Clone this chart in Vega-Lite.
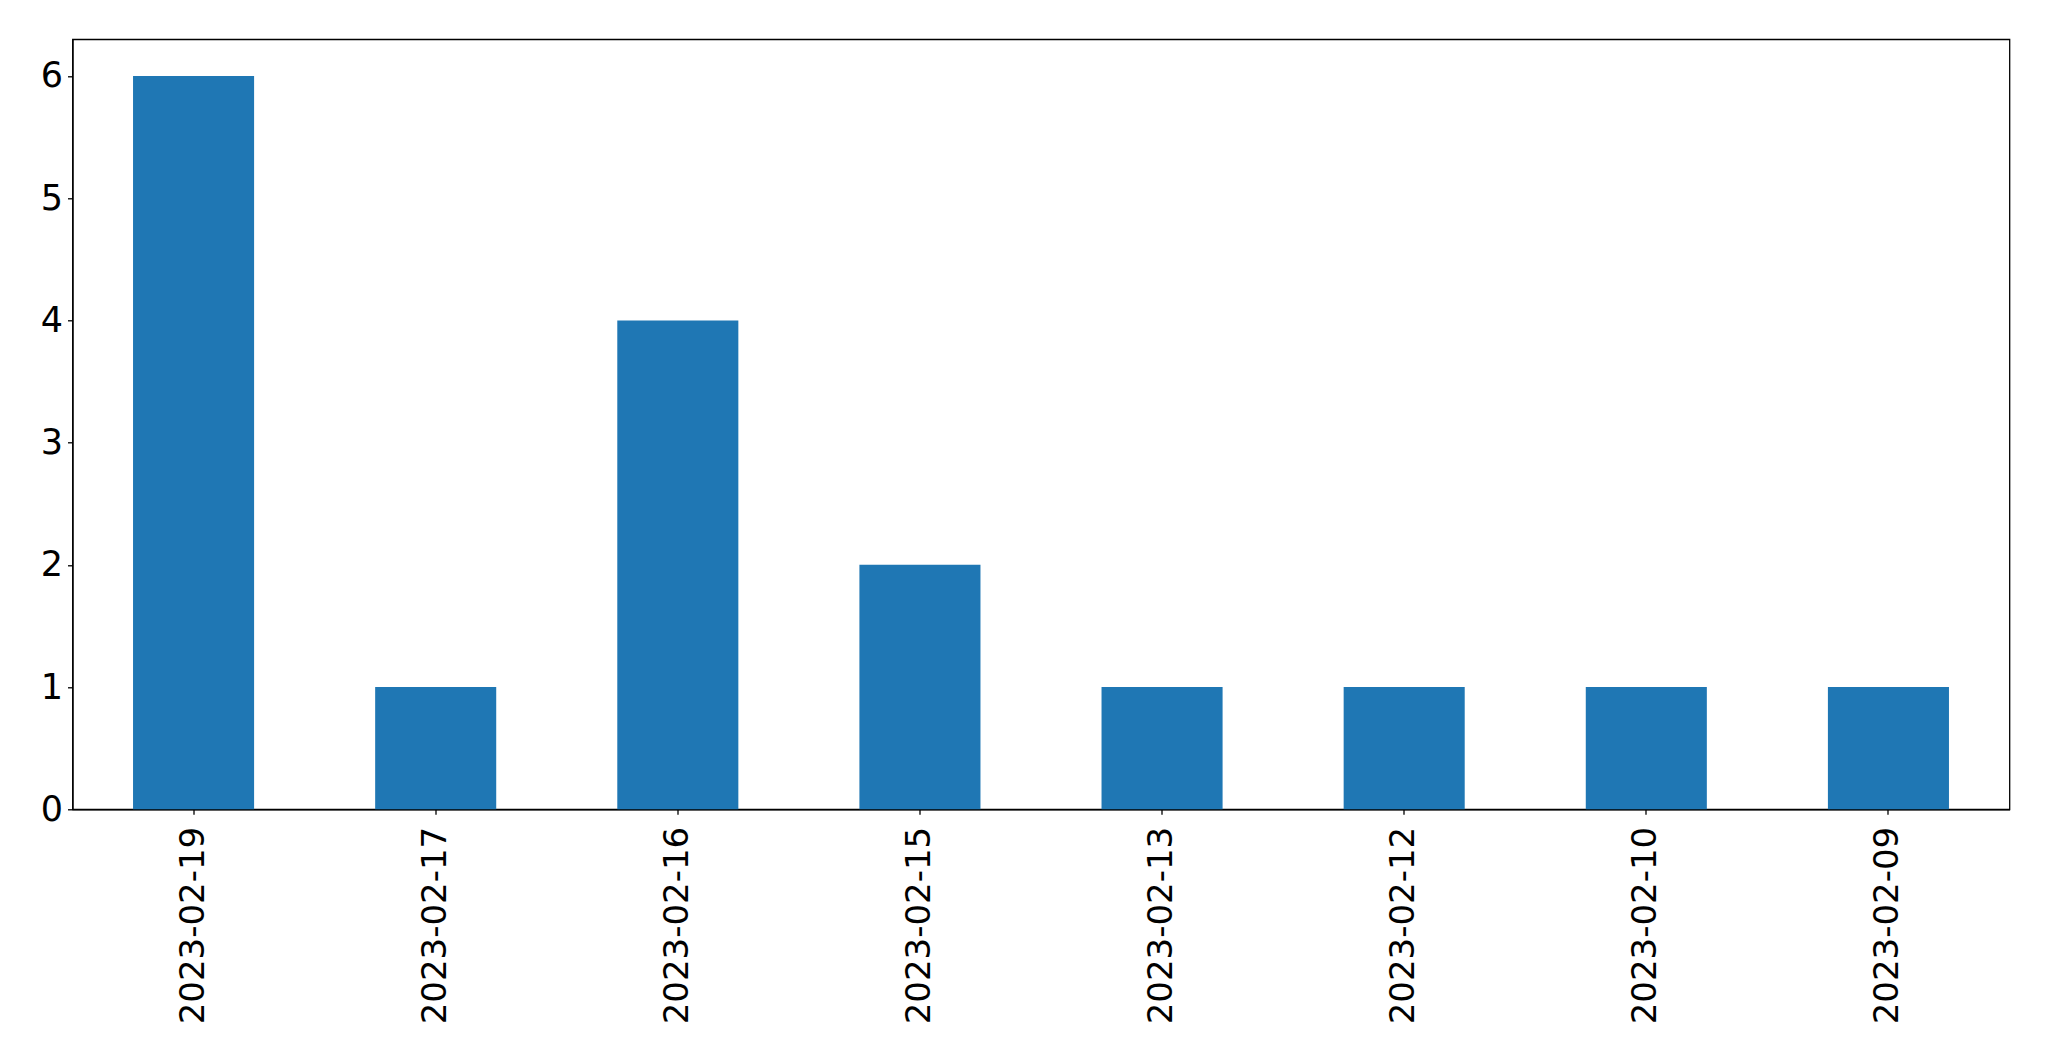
{
  "$schema": "https://vega.github.io/schema/vega-lite/v6.json",
  "autosize": "none",
  "width": 1937,
  "height": 770,
  "padding": {"left": 72.5, "top": 39.3, "right": 40, "bottom": 252},
  "background": "white",
  "config": {
    "view": {"stroke": "#000", "strokeWidth": 1.3},
    "font": "DejaVu Sans",
    "axis": {
      "labelFont": "DejaVu Sans",
      "labelFontSize": 34,
      "labelColor": "#000",
      "labelLimit": 0,
      "domainColor": "#000",
      "domainWidth": 1.3,
      "tickColor": "#000",
      "tickWidth": 1.3,
      "tickSize": 5,
      "grid": false,
      "title": null
    }
  },
  "data": {
    "values": [
      {"date": "2023-02-19", "count": 6},
      {"date": "2023-02-17", "count": 1},
      {"date": "2023-02-16", "count": 4},
      {"date": "2023-02-15", "count": 2},
      {"date": "2023-02-13", "count": 1},
      {"date": "2023-02-12", "count": 1},
      {"date": "2023-02-10", "count": 1},
      {"date": "2023-02-09", "count": 1}
    ]
  },
  "mark": {"type": "bar", "color": "#1f77b4"},
  "encoding": {
    "x": {
      "field": "date",
      "type": "nominal",
      "sort": null,
      "scale": {"paddingInner": 0.5, "paddingOuter": 0.25},
      "axis": {"labelAngle": -90, "labelPadding": 12, "labelBaseline": "middle", "labelAlign": "right", "labelFontSize": 34, "labelLimit": 0, "domainColor": "#000", "labelColor": "#000"}
    },
    "y": {
      "field": "count",
      "type": "quantitative",
      "scale": {"domain": [0, 6.3], "nice": false},
      "axis": {"values": [0, 1, 2, 3, 4, 5, 6], "labelPadding": 5, "format": "d", "labelFontSize": 35, "labelBaseline": "middle", "labelColor": "#000"}
    }
  }
}
